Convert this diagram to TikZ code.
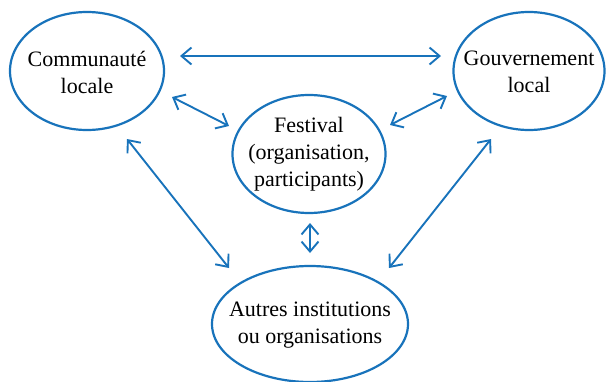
\documentclass[tikz,border=0pt]{standalone}
\usepackage{fontspec}
\setmainfont{Liberation Serif}
\usetikzlibrary{shapes.geometric,arrows.meta,calc}
\definecolor{lineblue}{HTML}{1873BB}
\begin{document}
\begin{tikzpicture}[x=1pt,y=-1pt,
  ell/.style={draw=lineblue,line width=2.2pt,ellipse,inner sep=0pt},
  lbl/.style={align=center,font=\fontsize{22}{27}\selectfont,inner sep=0pt},
  arr/.style={draw=lineblue,line width=1.9pt,{Straight Barb[length=10pt,width=17pt]}-{Straight Barb[length=10pt,width=17pt]}}]
\useasboundingbox (0,0) rectangle (606,381);
\node[ell,minimum width=154pt,minimum height=118pt] (comm) at (87,71) {};
\node[ell,minimum width=151pt,minimum height=118pt] (gouv) at (529,71) {};
\node[ell,minimum width=153pt,minimum height=118pt] (fest) at (309,154) {};
\node[ell,minimum width=196pt,minimum height=116pt] (autr) at (310,324) {};
\node[lbl] (commt) at (87,72) {Communauté\\locale};
\node[lbl] (gouvt) at (529,72) {Gouvernement\\local};
\node[lbl] (festt) at (309,154) {Festival\\(organisation,\\participants)};
\node[lbl] (autrt) at (310,325) {Autres institutions\\ou organisations};
% connector ends
\coordinate (c1) at ($(comm)+(93,-15)$);
\coordinate (g1) at ($(gouv)+(-88,-15)$);
\coordinate (c2) at ($(comm)+(85,26)$);
\coordinate (f1) at ($(fest)+(-80,-28)$);
\coordinate (f2) at ($(fest)+(81,-29)$);
\coordinate (g2) at ($(gouv)+(-82,25)$);
\coordinate (c3) at ($(comm)+(40,68)$);
\coordinate (a1) at ($(autr)+(-81,-56)$);
\coordinate (g3) at ($(gouv)+(-38,68)$);
\coordinate (a2) at ($(autr)+(79,-56)$);
\coordinate (f3) at ($(fest)+(1,69)$);
\coordinate (a3) at ($(autr)+(0,-71)$);
\draw[arr] (c1) -- (g1);
\draw[arr] (c2) -- (f1);
\draw[arr] (f2) -- (g2);
\draw[arr] (c3) -- (a1);
\draw[arr] (g3) -- (a2);
\draw[arr] (f3) -- (a3);
\end{tikzpicture}
\end{document}
